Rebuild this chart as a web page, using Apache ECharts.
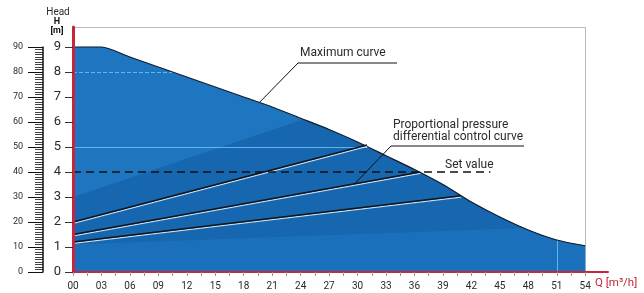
<!DOCTYPE html>
<html>
<head>
<meta charset="utf-8">
<script src="https://cdn.jsdelivr.net/npm/echarts@6/dist/echarts.min.js"></script>
<style>
html, body { margin: 0; padding: 0; background: #fff; }
#chart { width: 644px; height: 293px; }
</style>
</head>
<body>
<div id="chart"></div>
<script>
// flow Q [m3/h] tick labels and head H [m] tick labels
const qLabels = [0, 3, 6, 9, 12, 15, 18, 21, 24, 27, 30, 33, 36, 39, 42, 45, 48, 51, 54];
const qTicks = [0, 1.5, 3, 4.5, 6, 7.5, 9, 10.5, 12, 13.5, 15, 16.5, 18, 19.5, 21, 22.5, 24, 25.5, 27, 28.5, 30, 31.5, 33, 34.5, 36, 37.5, 39, 40.5, 42, 43.5, 45, 46.5, 48, 49.5, 51, 52.5, 54];
const hLabels = [0, 1, 2, 3, 4, 5, 6, 7, 8, 9];

// maximum curve (Q, H)
const maxCurve = [
    [0, 9.0], [3, 9.0], [6, 8.6], [9, 8.2], [12, 7.8], [15, 7.4], [18, 7.0],
    [21, 6.6], [24, 6.15], [27, 5.7], [30, 5.2], [33, 4.65], [36, 4.1],
    [39, 3.5], [42, 2.8], [45, 2.2], [48, 1.68], [51, 1.28], [54, 1.05]
]
// proportional pressure control curves
const propTop = [[0, 2.0], [31.0, 5.08]]
const propMid = [[0, 1.5], [36.6, 4.0]]
const propLow = [[0, 1.2], [40.9, 3.05]]
// set value
const setValue = 4.0
const setValueEnd = 44
// shade boundaries inside the operating range (straight, cut off by the maximum curve)
const upperShade = [[0, 3.0], [54, 9.9]]
const lowerShade = [[0, 1.1], [54, 1.85]]

const C_RED = '#c8243a'
const C_TEXT = '#2a2a2a'
const SMOOTH = 0.25

const chart = echarts.init(document.getElementById('chart'), null, { renderer: 'canvas' })

function propLine(data) {
    return {
        type: 'line',
        data: data,
        symbol: 'none',
        z: 5,
        lineStyle: {
            color: '#101418', width: 1.4,
            shadowColor: 'rgba(230,240,255,0.85)', shadowBlur: 0, shadowOffsetY: 1.4
        }
    }
}

const option = {
    animation: false,
    backgroundColor: '#fff',
    grid: [
        { left: 73, right: 36, top: 27, bottom: 21 },
        { left: 43, width: 1, top: 47, bottom: 21 }
    ],
    xAxis: [
        {
            type: 'value', gridIndex: 0, min: 0, max: 56.4, z: 10,
            axisLine: { lineStyle: { color: C_RED, width: 2 } },
            axisTick: { show: true, customValues: qTicks, length: 4, lineStyle: { color: '#999', width: 1 } },
            axisLabel: {
                customValues: qLabels, margin: 9, fontSize: 10, color: C_TEXT, fontFamily: 'Roboto',
                formatter: v => (v < 10 ? '0' : '') + v
            },
            splitLine: { show: false }
        },
        {
            type: 'value', gridIndex: 1, min: 0, max: 1, show: false
        }
    ],
    yAxis: [
        {
            type: 'value', gridIndex: 0, min: 0, max: 9.8, z: 10,
            axisLine: { show: true, lineStyle: { color: C_RED, width: 3 } },
            axisTick: { show: true, customValues: hLabels, length: 8, lineStyle: { color: '#333', width: 1 } },
            axisLabel: { customValues: hLabels, margin: 12, fontSize: 13, color: C_TEXT, fontFamily: 'Roboto' },
            splitLine: { show: false }
        },
        {
            type: 'value', gridIndex: 1, min: 0, max: 90, interval: 10,
            axisLine: { show: true, lineStyle: { color: '#111', width: 1.5 } },
            axisTick: { show: true, length: 15, lineStyle: { color: '#111', width: 1 } },
            minorTick: { show: true, splitNumber: 10, length: 8, lineStyle: { color: '#111', width: 0.8 } },
            axisLabel: { margin: 20, fontSize: 9, color: C_TEXT, fontFamily: 'Roboto' },
            splitLine: { show: false }
        }
    ],
    series: [
        {
            name: 'range',
            type: 'line', data: maxCurve, symbol: 'none', z: 1, smooth: SMOOTH,
            lineStyle: { width: 0 },
            areaStyle: { color: '#1e76c0', opacity: 1 }
        },
        {
            type: 'line', data: upperShade, symbol: 'none', z: 1,
            lineStyle: { width: 0 },
            areaStyle: { color: '#1667b0', opacity: 1 }
        },
        {
            type: 'line', data: lowerShade, symbol: 'none', z: 1,
            lineStyle: { width: 0 },
            areaStyle: { color: '#1a70ba', opacity: 1 },
            markLine: {
                silent: true, symbol: 'none', label: { show: false }, z: 2,
                lineStyle: { color: 'rgba(120,205,255,0.75)', width: 1 },
                data: [
                    [{ coord: [0, 8], lineStyle: { type: [4, 2] } }, { coord: [54, 8] }],
                    [{ coord: [0, 5], lineStyle: { type: 'solid' } }, { coord: [54, 5] }],
                    [{ coord: [51, 0], lineStyle: { type: 'solid' } }, { coord: [51, 9.8] }]
                ]
            }
        },
        {
            // white above the maximum curve
            type: 'line', data: maxCurve, symbol: 'none', z: 3, smooth: SMOOTH,
            lineStyle: { width: 0 },
            areaStyle: { color: '#fff', opacity: 1, origin: 'end' }
        },
        {
            name: 'Maximum curve',
            type: 'line', data: maxCurve, symbol: 'none', z: 4, smooth: SMOOTH,
            lineStyle: { color: '#0d1a2a', width: 1.2 },
            markLine: {
                silent: true, symbol: 'none', label: { show: false }, z: 4,
                lineStyle: { color: '#b8bcc0', width: 1, type: 'solid' },
                data: [
                    [{ coord: [0, 9.8] }, { coord: [54, 9.8] }],
                    [{ coord: [54, 1.05] }, { coord: [54, 9.8] }]
                ]
            }
        },
        propLine(propTop),
        propLine(propMid),
        propLine(propLow),
        {
            name: 'Set value',
            type: 'line', data: [[0, setValue], [setValueEnd, setValue]], symbol: 'none', z: 6,
            lineStyle: { color: '#111', width: 1.5, type: [8, 5] }
        },
        {
            type: 'line', xAxisIndex: 1, yAxisIndex: 1, data: [], symbol: 'none'
        }
    ]
}
chart.setOption(option)

// annotations
const px = p => chart.convertToPixel({ gridIndex: 0 }, p)
const maxHit = px([19.7, 6.8])
const propHit = px([29.7, 1.5 + 2.5 * 29.7 / 36.6])
const txt = (x, y, text, font, fill, align) => ({
    type: 'text', x: x, y: y, silent: true, z: 10,
    style: {
        text: text, fill: fill || C_TEXT, font: font || '12px Roboto',
        textAlign: align || 'left', textVerticalAlign: 'middle'
    }
})
const seg = (x1, y1, x2, y2) => ({
    type: 'line', silent: true, z: 10,
    shape: { x1: x1, y1: y1, x2: x2, y2: y2 },
    style: { stroke: '#111', lineWidth: 1 }
})

chart.setOption({
    graphic: [
        txt(58, 12, 'Head', '10px Roboto', C_TEXT, 'center'),
        txt(57, 22, 'H', 'bold 9px Roboto', '#111', 'center'),
        txt(57, 31, '[m]', 'bold 9px Roboto', '#111', 'center'),
        txt(595, 283, 'Q [m³/h]', '11.5px Roboto', C_RED),
        txt(300, 53, 'Maximum curve'),
        seg(298, 63, 397, 63),
        seg(298, 63, maxHit[0], maxHit[1]),
        txt(393, 125, 'Proportional pressure'),
        txt(393, 137, 'differential control curve'),
        seg(391, 146, 524, 146),
        seg(391, 146, propHit[0], propHit[1]),
        txt(445, 165, 'Set value')
    ]
})
</script>
</body>
</html>
